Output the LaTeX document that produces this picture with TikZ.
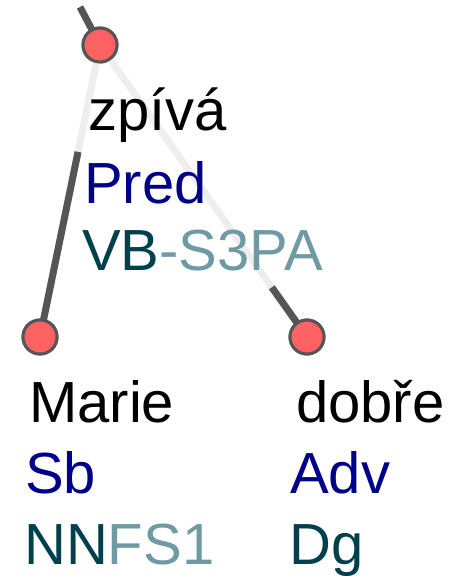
\documentclass[tikz,border=0pt]{standalone}
\usepackage{fontspec}
\setmainfont{Liberation Sans}
\usetikzlibrary{calc}
\definecolor{edgedark}{HTML}{555555}
\definecolor{edgelight}{HTML}{EEEEEE}
\definecolor{nodered}{HTML}{FF6262}
\definecolor{funcblue}{HTML}{000088}
\definecolor{tagdark}{HTML}{00404C}
\definecolor{taglight}{HTML}{6F9AA4}
\tikzset{
  treenode/.style={circle, fill=nodered, draw=edgedark, line width=3pt, minimum size=34pt, inner sep=0pt},
  lbl/.style={anchor=base west, inner sep=0pt, font=\fontsize{58}{70}\selectfont},
  darkedge/.style={draw=edgedark, line width=7pt},
  lightedge/.style={draw=edgelight, line width=7pt},
}
\begin{document}
\begin{tikzpicture}[x=1pt,y=-1pt]
\useasboundingbox (0,0) rectangle (449,576);
% positions
\coordinate (up) at (80,7);
\node[treenode] (top) at (100,45) {};
\node[treenode] (marie) at (40,337) {};
\node[treenode] (dobre) at (307,337) {};
\coordinate (lbreak) at ($(top)!0.366!(marie)$);
\coordinate (rbreak) at ($(top)!0.83!(dobre)$);
% edges
\draw[darkedge] (up) -- (top.center);
\draw[lightedge] (top.center) -- (marie.center);
\draw[darkedge] (lbreak) -- (marie.center);
\draw[lightedge] (top.center) -- (dobre.center);
\draw[darkedge] (rbreak) -- (dobre.center);
% nodes on top
\node[treenode] at (top) {};
\node[treenode] at (marie) {};
\node[treenode] at (dobre) {};
% labels
\node[lbl] (t1) at (88,130) {zpívá};
\node[lbl, text=funcblue] (t2) at (84,203) {Pred};
\node[lbl] (t3) at (82,270) {\textcolor{tagdark}{VB}\textcolor{taglight}{-S3PA}};
\node[lbl] (m1) at (29,422) {Marie};
\node[lbl, text=funcblue] (m2) at (25,493) {Sb};
\node[lbl] (m3) at (24,564) {\textcolor{tagdark}{NN}\textcolor{taglight}{FS1}};
\node[lbl] (d1) at (296,422) {dobře};
\node[lbl, text=funcblue] (d2) at (290,493) {Adv};
\node[lbl, text=tagdark] (d3) at (289,564) {Dg};
\end{tikzpicture}
\end{document}
